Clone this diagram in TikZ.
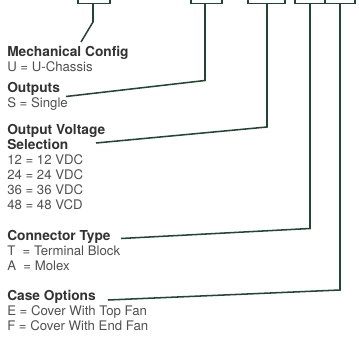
\documentclass[tikz,border=0pt]{standalone}
\usepackage{fontspec}
\setmainfont{TeX Gyre Heros}
\definecolor{lead}{RGB}{34,70,52}
\definecolor{titlegray}{RGB}{50,50,50}
\definecolor{bodygray}{RGB}{80,80,80}
\begin{document}
\begin{tikzpicture}[x=0.75pt,y=-0.75pt,
  leader/.style={draw=lead,line width=1.15pt,line join=miter},
  ttl/.style={anchor=base west,inner sep=0pt,text=titlegray,font=\fontsize{10.3}{11}\selectfont\bfseries},
  txt/.style={anchor=base west,inner sep=0pt,text=bodygray,font=\fontsize{9.9}{11}\selectfont}]
\useasboundingbox (0,0) rectangle (359,341);
\fill[white] (0,0) rectangle (359,341);
% brackets at top
\draw[leader] (78,-1) -- (78,3.5) -- (110,3.5) -- (110,-1);
\draw[leader] (191,-1) -- (191,3.5) -- (222,3.5) -- (222,-1);
\draw[leader] (248,-1) -- (248,3.5) -- (285,3.5) -- (285,-1);
\draw[leader] (295,-1) -- (295,3.5) -- (325,3.5) -- (325,-1);
\draw[leader] (325,3.5) -- (355,3.5) -- (355,-1);
\coordinate (b1) at (93,3.5);
\coordinate (b2) at (205,3.5);
\coordinate (b3) at (267,3.5);
\coordinate (b4) at (310,3.5);
\coordinate (b5) at (340,3.5);
% texts
\node[ttl] (mc) at (7,56.5) {Mechanical Config};
\node[txt] (mc1) at (7,71.5) {U = U-Chassis};
\node[ttl] (ou) at (7,93) {Outputs};
\node[txt] (ou1) at (7,108) {S = Single};
\node[ttl] (ov) at (7,135) {Output Voltage};
\node[ttl] (ov2) at (7,150) {Selection};
\node[txt] (v1) at (7,165) {12 = 12 VDC};
\node[txt] (v2) at (7,180) {24 = 24 VDC};
\node[txt] (v3) at (7,195) {36 = 36 VDC};
\node[txt] (v4) at (7,210) {48 = 48 VCD};
\node[ttl] (ct) at (7,240) {Connector Type};
\node[txt] (ct1) at (7,255) {T\ \ = Terminal Block};
\node[txt] (ct2) at (7,270) {A\ \ = Molex};
\node[ttl] (co) at (7,300.5) {Case Options};
\node[txt] (co1) at (7,315.5) {E = Cover With Top Fan};
\node[txt] (co2) at (7,330.5) {F = Cover With End Fan};
% leader ends
\coordinate (e1) at (81,42);
\coordinate (e2) at (66,96.5);
\coordinate (e3) at (96,143);
\coordinate (e4) at (121,238.5);
\coordinate (e5) at (108,300);
% leaders
\draw[leader] (b1) -- (93,22) -- (e1);
\draw[leader] (b2) -- (205,80.5) -- (e2);
\draw[leader] (b3) -- (267,127) -- (e3);
\draw[leader] (b4) -- (310,228.5) -- (e4);
\draw[leader] (b5) -- (340,290) -- (e5);
\end{tikzpicture}
\end{document}
